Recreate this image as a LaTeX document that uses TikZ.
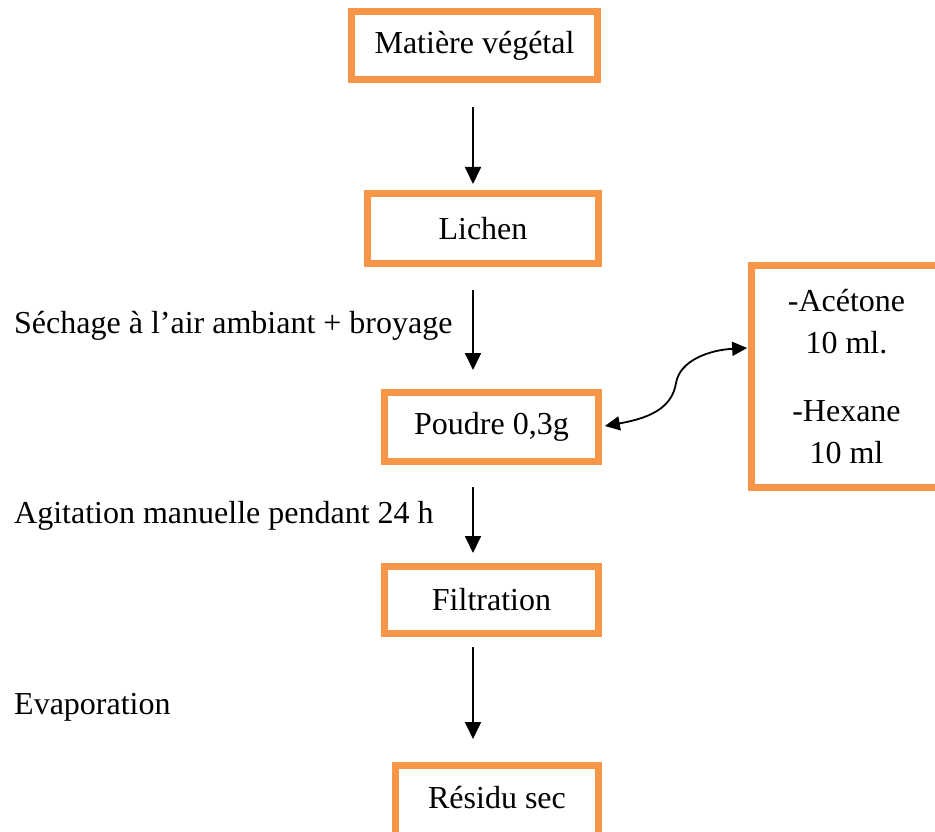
\documentclass[tikz,border=0pt]{standalone}
\usepackage{fontspec}
\setmainfont{Liberation Serif}
\usetikzlibrary{arrows.meta}
\definecolor{boxorange}{HTML}{F79646}
\begin{document}
\begin{tikzpicture}[x=1pt,y=-1pt,
  every node/.style={font=\fontsize{32}{42}\selectfont},
  stepbox/.style={draw=boxorange, line width=6.7pt, fill=white, inner sep=0pt, rectangle},
  lbl/.style={anchor=base west, inner sep=0pt},
  arr/.style={line width=1.8pt, -{Triangle[width=16pt,length=17pt]}},
  biarr/.style={line width=1.8pt, {Triangle[width=14pt,length=15pt]}-{Triangle[width=14pt,length=15pt]}}]
\useasboundingbox (0,0) rectangle (935,832);
\begin{scope}
\clip (0,0) rectangle (935,832);
\node[stepbox, minimum width=246pt, minimum height=68pt] (mat) at (474.5,45.5) {Matière végétal};
\node[stepbox, minimum width=231pt, minimum height=70pt] (lich) at (483,228.5) {Lichen};
\node[stepbox, minimum width=214pt, minimum height=69pt] (poud) at (491.5,427) {Poudre 0,3g};
\node[stepbox, minimum width=214pt, minimum height=67pt] (filt) at (491.5,600) {Filtration};
\node[stepbox, minimum width=203pt, minimum height=70pt] (res) at (497,800.5) {};
\node[inner sep=0pt] (restxt) at (497,798) {Résidu sec};
\node[stepbox, minimum width=190pt, minimum height=222pt, align=center] (solv) at (846.5,376.5)
  {-Acétone\\10 ml.\\[26pt]-Hexane\\10 ml};
\end{scope}

\node[lbl] (l1) at (14,333) {Séchage à l’air ambiant + broyage};
\node[lbl] (l2) at (14,523) {Agitation manuelle pendant 24 h};
\node[lbl] (l3) at (14,714) {Evaporation};

\coordinate (a1s) at (473,107); \coordinate (a1e) at (473,184);
\coordinate (a2s) at (473,290); \coordinate (a2e) at (473,370);
\coordinate (a3s) at (473,487); \coordinate (a3e) at (473,553);
\coordinate (a4s) at (473,647); \coordinate (a4e) at (473,739);
\draw[arr] (a1s) -- (a1e);
\draw[arr] (a2s) -- (a2e);
\draw[arr] (a3s) -- (a3e);
\draw[arr] (a4s) -- (a4e);

\coordinate (mid) at (676,383);
\draw[biarr] ([xshift=3pt,yshift=1pt]poud.east) .. controls (650,418) and (672,408) .. (mid)
  .. controls (680,360) and (710,350) .. ([xshift=-1pt,yshift=28.5pt]solv.west);
\end{tikzpicture}
\end{document}
